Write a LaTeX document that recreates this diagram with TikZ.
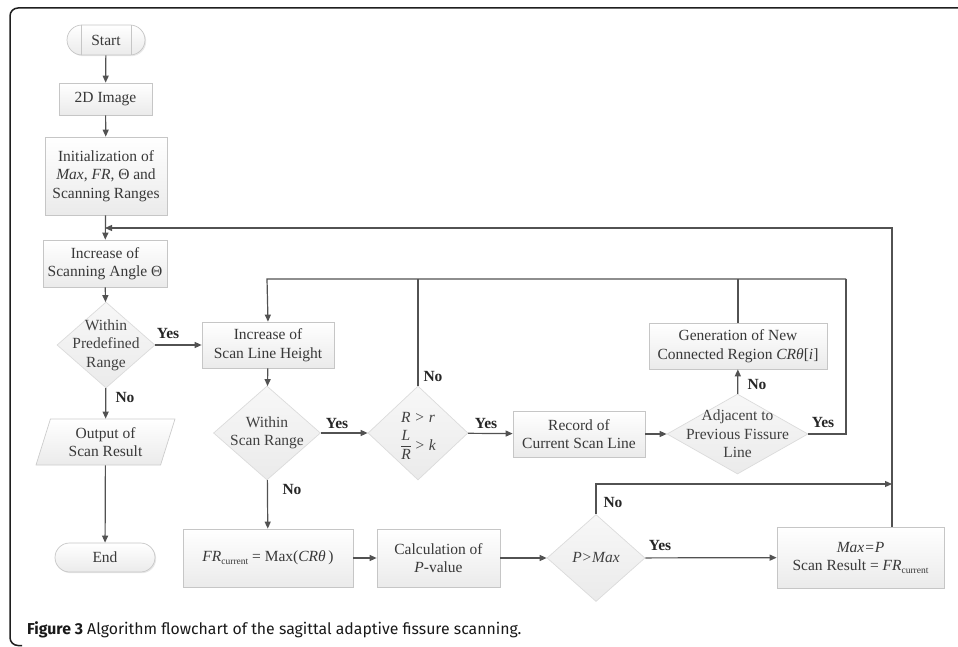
\documentclass[tikz,border=0pt]{standalone}
\usepackage{fontspec}
\setmainfont{Liberation Serif}
\newfontfamily\capfont{Fira Sans}
\usetikzlibrary{shapes.geometric,shapes.misc,arrows.meta,shadows,calc}
\newcommand\fsbox{\fontsize{15.5}{18.5}\selectfont}
\newcommand\subcur{\raisebox{-0.35ex}{\fontsize{9.5}{9.5}\selectfont current}}
\begin{document}
\begin{tikzpicture}[x=1pt,y=-1pt,
  every node/.style={text=black!78},
  boxshape/.style={rectangle, draw=gray!45, line width=0.7pt, top color=white, bottom color=gray!16,
    drop shadow={opacity=0.18, shadow xshift=1.2pt, shadow yshift=-1.2pt},
    align=center, inner sep=0pt, font=\fsbox},
  dia/.style={diamond, draw=gray!28, line width=0.7pt, top color=gray!6, bottom color=gray!16,
    inner sep=0pt},
  term/.style={rounded rectangle, draw=gray!45, line width=0.7pt, top color=white, bottom color=gray!16,
    drop shadow={opacity=0.18, shadow xshift=1.2pt, shadow yshift=-1.2pt},
    inner sep=0pt, font=\fsbox},
  para/.style={trapezium, trapezium left angle=64, trapezium right angle=116, trapezium stretches body,
    draw=gray!40, line width=0.7pt, top color=white, bottom color=gray!16,
    inner sep=0pt, align=center, font=\fsbox},
  conn/.style={draw=black!68, line width=1.2pt, -{Triangle[length=7pt,width=6pt]}},
  plain/.style={draw=black!68, line width=1.2pt},
  yn/.style={font=\fontsize{15.5}{18}\selectfont\bfseries, text=black!85, inner sep=0pt},
  dtext/.style={align=center, font=\fsbox, text=black!75, inner sep=0pt}
]
\useasboundingbox (0,0) rectangle (958,647);
% frame
\draw[black!88, line width=1.5pt, rounded corners=8pt] (958,8) -- (10,8) -- (10,645.5) -- (22,645.5);

% nodes
\node[term, minimum width=78, minimum height=30] (start) at (106,40) {Start};
\draw[gray!45, line width=0.7pt] ($(start.north)+(-25,0)$) -- ($(start.south)+(-25,0)$);
\draw[gray!45, line width=0.7pt] ($(start.north)+(25,0)$) -- ($(start.south)+(25,0)$);
\node[boxshape, minimum width=93, minimum height=32] (img) at (105.5,99) {2D Image};
\node[boxshape, minimum width=122, minimum height=78] (init) at (106,176)
  {Initialization of\\\textit{Max}, \textit{FR}, Θ and\\Scanning Ranges};
\node[boxshape, minimum width=124, minimum height=47] (angle) at (105,263.5)
  {Increase of\\Scanning Angle Θ};
\node[dia, minimum width=98, minimum height=86,
  label={[dtext]center:Within\\Predefined\\Range}] (d1) at (106,345) {};
\node[para, minimum width=139, minimum height=46] (out) at (105.5,442) {Output of\\Scan Result};
\node[term, minimum width=100, minimum height=29] (end) at (105,557.5) {End};

\node[boxshape, minimum width=132, minimum height=46] (slh) at (268,345)
  {Increase of\\Scan Line Height};
\node[dia, minimum width=107, minimum height=94,
  label={[dtext]center:Within\\Scan Range}] (d2) at (267,433) {};
\node[dia, minimum width=100, minimum height=94,
  label={[dtext, yshift=16pt]center:\textit{R} \textit{>} \textit{r}},
  label={[dtext, yshift=-12pt]center:$\displaystyle\frac{\mbox{\textit{L}}}{\mbox{\textit{R}}}$\,\textit{>} \textit{k}}] (d3) at (418,433) {};
\node[boxshape, minimum width=132, minimum height=46] (rec) at (579,434)
  {Record of\\Current Scan Line};
\node[dia, minimum width=141, minimum height=80,
  label={[dtext]center:Adjacent to\\Previous Fissure\\Line}] (d4) at (737.5,434) {};
\node[boxshape, minimum width=178, minimum height=46] (gen) at (738,346)
  {Generation of New\\Connected Region \textit{CRθ}[\textit{i}]};

\node[boxshape, minimum width=170, minimum height=58] (fr) at (268,558)
  {\textit{FR}\subcur\ = Max(\textit{CRθ}\,)};
\node[boxshape, minimum width=123, minimum height=58] (calc) at (438.5,558)
  {Calculation of\\\textit{P}-value};
\node[dia, minimum width=98, minimum height=87,
  label={[dtext]center:\textit{P>Max}}] (d5) at (596,558) {};
\node[boxshape, minimum width=167, minimum height=61] (maxb) at (860.5,557.5)
  {\textit{Max=P}\\Scan Result = \textit{FR}\subcur};

% coordinates
\coordinate (jA) at (105,228);
\coordinate (loopL) at (267,279);
\coordinate (loopR) at (846,279);
\coordinate (outR) at (892,228);
\coordinate (noT) at (596,484);
\coordinate (noR) at (892,484);

% connectors
\draw[conn] (start) -- (img);
\draw[conn] (img) -- (init);
\draw[conn] (init) -- (angle);
\draw[conn] (angle) -- (d1);
\draw[conn] (d1) -- (slh);
\draw[conn] (d1) -- (out);
\draw[conn] (out) -- (end);
\draw[conn] (slh) -- (d2);
\draw[conn] (d2) -- (d3);
\draw[conn] (d2) -- (fr);
\draw[conn] (d3) -- (rec);
\draw[conn] (rec) -- (d4);
\draw[conn] (d4) -- (gen);
\draw[plain] (gen.north) -- (gen.north |- loopR);
\draw[plain] (d4.east) -| (loopR);
\draw[plain] (d3.north) -- (d3.north |- loopL);
\draw[conn] (loopR) -- (loopL) -- (slh.north);
\draw[conn] (fr) -- (calc);
\draw[conn] (calc) -- (d5);
\draw[conn] (d5) -- (maxb);
\draw[conn] (d5.north) -- (noT) -- (noR);
\draw[conn] (maxb.north -| outR) -- (outR) -- (jA);

% labels
\node[yn] (y1) at (168,333) {Yes};
\node[yn] (n1) at (125,397) {No};
\node[yn] (y2) at (337,423) {Yes};
\node[yn] (n2) at (292,489) {No};
\node[yn] (y3) at (486,423) {Yes};
\node[yn] (n3) at (433,376) {No};
\node[yn] (n4) at (757,384) {No};
\node[yn] (y4) at (823,422) {Yes};
\node[yn] (n5) at (613,502) {No};
\node[yn] (y5) at (660,545) {Yes};

% caption
\node[anchor=base west, inner sep=0pt, text=black!90, font=\capfont\fontsize{15.8}{18}\selectfont] (cap) at (27,634)
  {\textbf{Figure 3} Algorithm flowchart of the sagittal adaptive fissure scanning.};
\end{tikzpicture}
\end{document}
